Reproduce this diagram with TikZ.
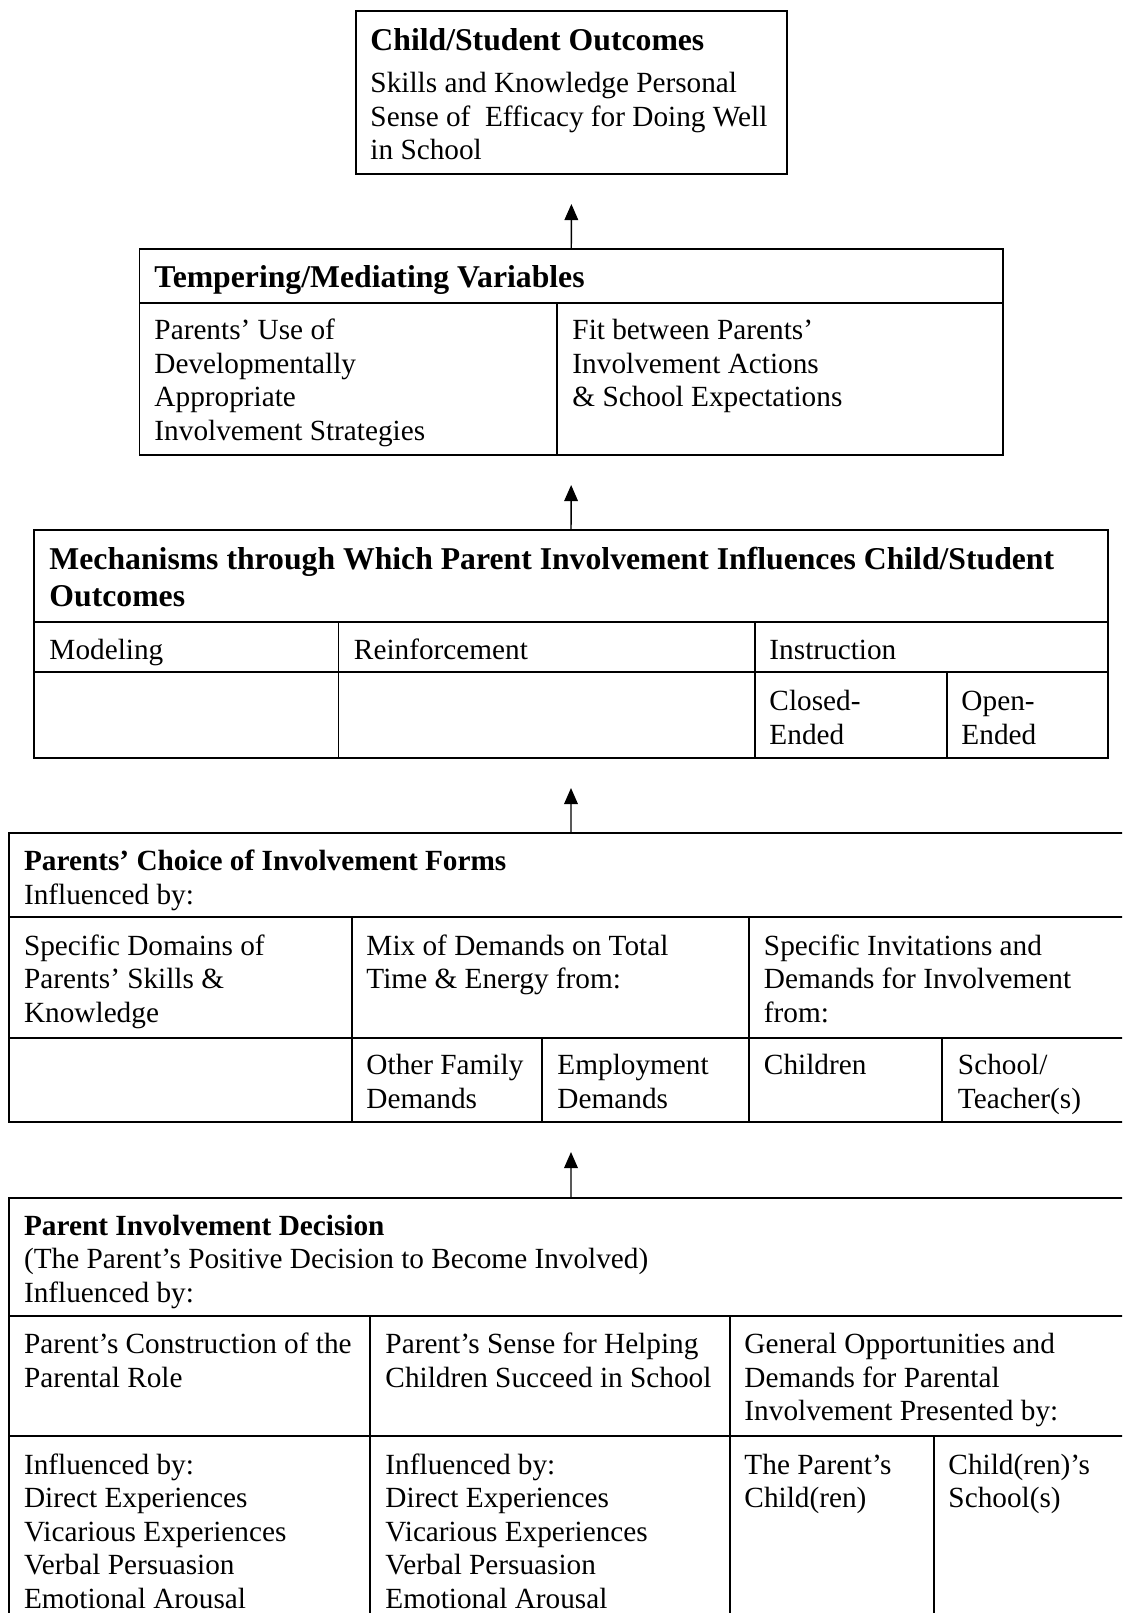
\documentclass[tikz,border=0pt]{standalone}
\usepackage{fontspec}
\setmainfont{Liberation Serif}
\usetikzlibrary{arrows.meta,fit}
\newcommand\celltext[1]{\begin{tabular}[t]{@{}l@{}}#1\end{tabular}}
\begin{document}
\begin{tikzpicture}[x=0.41pt,y=-0.41pt,
  boxframe/.style={draw, line width=0.8pt, inner sep=0pt},
  rule/.style={line width=0.8pt},
  txt/.style={anchor=base west, inner sep=0pt, font=\fontsize{12}{13.75}\selectfont},
  ttl/.style={anchor=base west, inner sep=0pt, font=\fontsize{13}{15.2}\selectfont\bfseries},
  ttls/.style={anchor=base west, inner sep=0pt, font=\fontsize{12}{13.75}\selectfont\bfseries},
  arr/.style={-{Triangle[length=6.6pt,width=5.6pt]}, line width=0.6pt, shorten >=11.9pt}]
\useasboundingbox (0,0) rectangle (1122,1613);
\clip (0,0) rectangle (1122,1613);

% Box 1: outcomes
\node[boxframe, fit={(356,11) (787,174)}] (outcomes) {};
\node[ttl] (outT) at (370,50.5) {Child/Student Outcomes};
\node[txt] (outB) at (370,92.5) {\celltext{Skills and Knowledge Personal\\Sense of~ Efficacy for Doing Well\\in School}};

% Box 2: tempering
\node[boxframe, fit={(139.5,249) (1003,455)}] (temper) {};
\draw[rule] (139.5,303) -- (1003,303);
\draw[rule] (557,303) -- (557,455);
\node[ttl] (tempT) at (154,287.5) {Tempering/Mediating Variables};
\node[txt] (tempL) at (154,339.5) {\celltext{Parents’ Use of\\Developmentally\\Appropriate\\Involvement Strategies}};
\node[txt] (tempR) at (572,339.5) {\celltext{Fit between Parents’\\Involvement Actions\\\& School Expectations}};

% Box 3: mechanisms
\node[boxframe, fit={(34,530) (1108,758)}] (mech) {};
\draw[rule] (34,622) -- (1108,622);
\draw[rule] (34,672) -- (1108,672);
\draw[rule] (338.5,622) -- (338.5,758);
\draw[rule] (755,622) -- (755,758);
\draw[rule] (947,672) -- (947,758);
\node[ttl] (mechT) at (49,569.5) {\celltext{Mechanisms through Which Parent Involvement Influences Child/Student\\Outcomes}};
\node[txt] (modeling) at (49,659) {Modeling};
\node[txt] (reinf) at (353.5,659) {Reinforcement};
\node[txt] (instr) at (769,659) {Instruction};
\node[txt] (closed) at (769,710.5) {\celltext{Closed-\\Ended}};
\node[txt] (open) at (961,710.5) {\celltext{Open-\\Ended}};

% Box 4: parents' choice
\node[boxframe, fit={(8.6,833) (1133.4,1122)}] (choice) {};
\draw[rule] (8.6,917) -- (1133.4,917);
\draw[rule] (8.6,1038) -- (1133.4,1038);
\draw[rule] (352,917) -- (352,1122);
\draw[rule] (749,917) -- (749,1122);
\draw[rule] (542,1038) -- (542,1122);
\draw[rule] (942,1038) -- (942,1122);
\node[ttls] (choiceT) at (23.6,870) {Parents’ Choice of Involvement Forms};
\node[txt] (choiceI) at (23.6,904) {Influenced by:};
\node[txt] (domains) at (23.6,955) {\celltext{Specific Domains of\\Parents’ Skills \&\\Knowledge}};
\node[txt] (mix) at (366,955) {\celltext{Mix of Demands on Total\\Time \& Energy from:}};
\node[txt] (invit) at (763.5,955) {\celltext{Specific Invitations and\\Demands for Involvement\\from:}};
\node[txt] (family) at (366,1074.5) {\celltext{Other Family\\Demands}};
\node[txt] (employ) at (557,1074.5) {\celltext{Employment\\Demands}};
\node[txt] (children) at (763.5,1074.5) {Children};
\node[txt] (teacher) at (957.5,1074.5) {\celltext{School/\\Teacher(s)}};

% Box 5: parent involvement decision
\node[boxframe, fit={(9,1198) (1133,1660)}] (decision) {};
\draw[rule] (9,1316) -- (1133,1316);
\draw[rule] (9,1436) -- (1133,1436);
\draw[rule] (370,1316) -- (370,1660);
\draw[rule] (730,1316) -- (730,1660);
\draw[rule] (934,1436) -- (934,1660);
\node[ttls] (decT) at (23.6,1235) {Parent Involvement Decision};
\node[txt] (decS) at (23.6,1268.5) {\celltext{(The Parent’s Positive Decision to Become Involved)\\Influenced by:}};
\node[txt] (role) at (23.6,1353.5) {\celltext{Parent’s Construction of the\\Parental Role}};
\node[txt] (sense) at (385,1353.5) {\celltext{Parent’s Sense for Helping\\Children Succeed in School}};
\node[txt] (general) at (744,1353.5) {\celltext{General Opportunities and\\Demands for Parental\\Involvement Presented by:}};
\node[txt] (roleI) at (23.6,1474) {\celltext{Influenced by:\\Direct Experiences\\Vicarious Experiences\\Verbal Persuasion\\Emotional Arousal}};
\node[txt] (senseI) at (385,1474) {\celltext{Influenced by:\\Direct Experiences\\Vicarious Experiences\\Verbal Persuasion\\Emotional Arousal}};
\node[txt] (pchild) at (744,1474) {\celltext{The Parent’s\\Child(ren)}};
\node[txt] (cschool) at (948,1474) {\celltext{Child(ren)’s\\School(s)}};

% arrows
\draw[arr] (temper.north) -- (outcomes.south);
\draw[arr] (mech.north) -- (temper.south);
\draw[arr] (choice.north) -- (mech.south);
\draw[arr] (decision.north) -- (choice.south);
\end{tikzpicture}
\end{document}
